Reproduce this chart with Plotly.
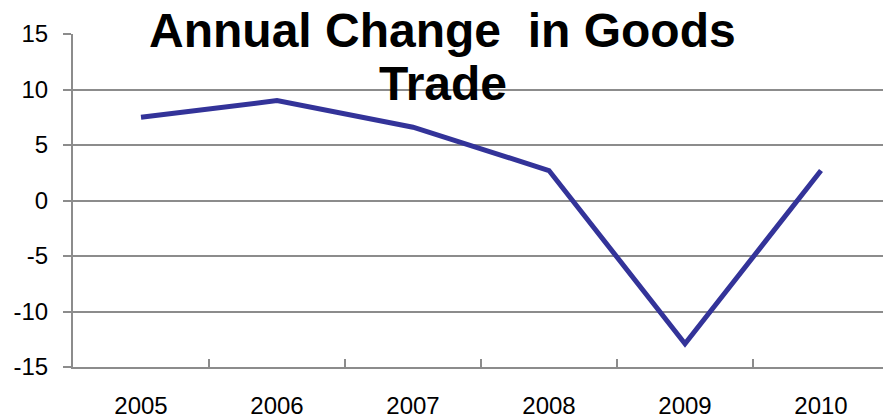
import plotly.graph_objects as go

years = ["2005", "2006", "2007", "2008", "2009", "2010"]
change = [7.5, 9.0, 6.6, 2.7, -12.9, 2.7]
y_ticks = [15, 10, 5, 0, -5, -10, -15]
title_line1 = "Annual Change\u00a0\u00a0in Goods"
title_line2 = "Trade"

fig = go.Figure()
fig.add_trace(go.Scatter(
    x=years, y=change, mode="lines",
    line=dict(color="#333399", width=5),
    hoverinfo="skip", showlegend=False,
))

W, H = 883, 420
L, R, T, B = 73, 0, 34, 53
pw = W - L - R
ph = H - T - B

def px_to_paper_x(px):
    return (px - L) / pw

def px_to_paper_y(py):
    return (H - B - py) / ph

fig.update_layout(
    width=W, height=H,
    margin=dict(l=L, r=R, t=T, b=B, pad=0),
    paper_bgcolor="white", plot_bgcolor="white",
    font=dict(family="Liberation Sans, Arial, sans-serif", color="black"),
    xaxis=dict(
        type="category",
        range=[-0.5, -0.5 + pw / 136.0],
        automargin=False,
        showgrid=False,
        showline=True, linecolor="#8c8c8c", linewidth=2,
        ticks="inside", ticklen=8, tickwidth=1.5, tickcolor="#8c8c8c",
        tickson="boundaries",
        tickfont=dict(size=24, color="black"),
        ticklabelstandoff=16,
        zeroline=False,
        fixedrange=True,
    ),
    yaxis=dict(
        range=[-15, 15],
        automargin=False,
        tickvals=y_ticks,
        ticktext=[str(v) for v in y_ticks],
        showgrid=True, gridcolor="#8c8c8c", gridwidth=1.5,
        showline=True, linecolor="#8c8c8c", linewidth=2,
        ticks="outside", ticklen=8, tickwidth=1.5, tickcolor="#8c8c8c",
        tickfont=dict(size=24, color="black"),
        ticklabelstandoff=10,
        zeroline=False,
        fixedrange=True,
    ),
    annotations=[
        dict(text="<b>" + title_line1 + "</b>", xref="paper", yref="paper",
             x=px_to_paper_x(442.5), y=px_to_paper_y(30), xanchor="center", yanchor="middle",
             showarrow=False, font=dict(size=48, color="black")),
        dict(text="<b>" + title_line2 + "</b>", xref="paper", yref="paper",
             x=px_to_paper_x(443), y=px_to_paper_y(84), xanchor="center", yanchor="middle",
             showarrow=False, font=dict(size=48, color="black")),
    ],
)

fig.write_html("out.html")
